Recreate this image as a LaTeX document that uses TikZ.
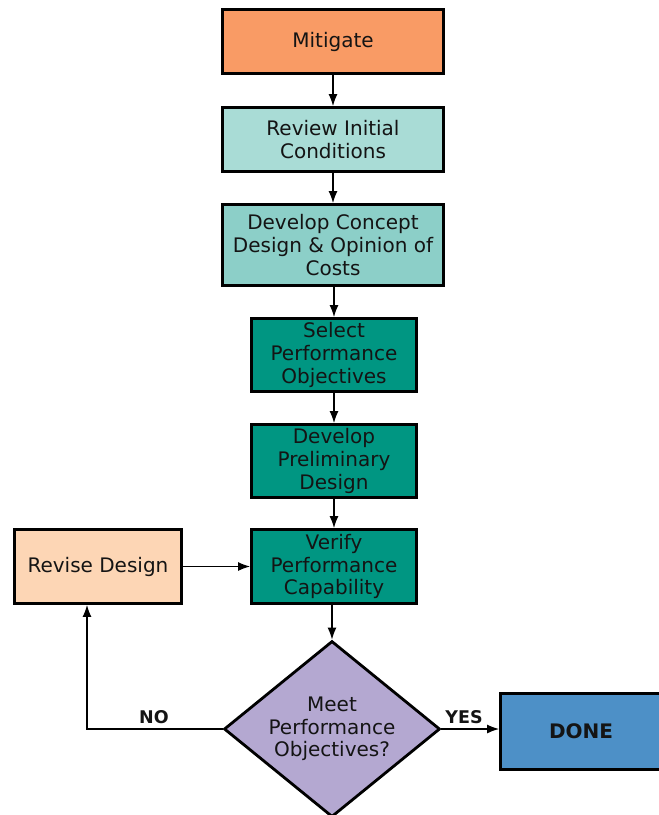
\documentclass[tikz,border=0pt]{standalone}
\usepackage{fontspec}
\setmainfont{DejaVu Sans}
\usetikzlibrary{arrows.meta,shapes.geometric}
\definecolor{cmit}{RGB}{249,155,101}
\definecolor{crev}{RGB}{169,220,214}
\definecolor{ccon}{RGB}{140,207,200}
\definecolor{cteal}{RGB}{0,150,130}
\definecolor{crd}{RGB}{253,214,181}
\definecolor{cdia}{RGB}{180,168,209}
\definecolor{cdone}{RGB}{77,144,199}
\tikzset{
  x=1pt,y=-1pt,
  boxnode/.style={draw=black,line width=2.8pt,inner sep=0pt,align=center,
    font=\fontsize{20}{22.7}\selectfont,text=black!92},
  decnode/.style={diamond,aspect=1.25,draw=black,line width=2.8pt,inner sep=0pt,align=center,
    font=\fontsize{20}{22.7}\selectfont,text=black!92,fill=cdia,
    minimum width=216pt,minimum height=176pt},
  arr/.style={draw=black,line width=1.3pt,-{Latex[length=12pt,width=9pt]}},
  lbl/.style={font=\bfseries\fontsize{17.5}{20}\selectfont,text=black!92},
}
\begin{document}
\begin{tikzpicture}
\useasboundingbox (0,0) rectangle (659,815);
\node[boxnode,fill=cmit,minimum width=221pt,minimum height=64pt] (mit) at (333,41.5) {Mitigate};
\node[boxnode,fill=crev,minimum width=221pt,minimum height=64pt] (rev) at (333,139.5) {Review Initial\\Conditions};
\node[boxnode,fill=ccon,minimum width=221pt,minimum height=81pt] (con) at (333,245) {Develop Concept\\Design \& Opinion of\\Costs};
\node[boxnode,fill=cteal,minimum width=165pt,minimum height=73pt] (sel) at (334,355) {Select\\Performance\\Objectives};
\node[boxnode,fill=cteal,minimum width=165pt,minimum height=73pt] (pre) at (334,461) {Develop\\Preliminary\\Design};
\node[boxnode,fill=cteal,minimum width=165pt,minimum height=74pt] (ver) at (334,566.5) {Verify\\Performance\\Capability};
\node[boxnode,fill=crd,minimum width=167pt,minimum height=74pt] (rd) at (98,566.5) {Revise Design};
\node[decnode] (dia) at (332,729) {Meet\\Performance\\Objectives?};
\node[boxnode,fill=cdone,minimum width=161pt,minimum height=76pt,font=\bfseries\fontsize{20}{22.7}\selectfont] (done) at (581,731.5) {DONE};
\coordinate (nocorner) at (87,729);
\draw[arr] (mit) -- (rev);
\draw[arr] (rev) -- (con);
\draw[arr] (con.south -| sel.north) -- (sel);
\draw[arr] (sel) -- (pre);
\draw[arr] (pre) -- (ver);
\draw[arr] (ver.south -| dia.north) -- (dia.north);
\draw[arr] (rd) -- (ver);
\draw[arr] (dia.west) -- (nocorner) -- (nocorner |- rd.south);
\draw[arr] (dia.east) -- (done.west |- dia.east);
\node[lbl] (nolbl) at (154,717) {NO};
\node[lbl] (yeslbl) at (464,717) {YES};
\end{tikzpicture}
\end{document}
